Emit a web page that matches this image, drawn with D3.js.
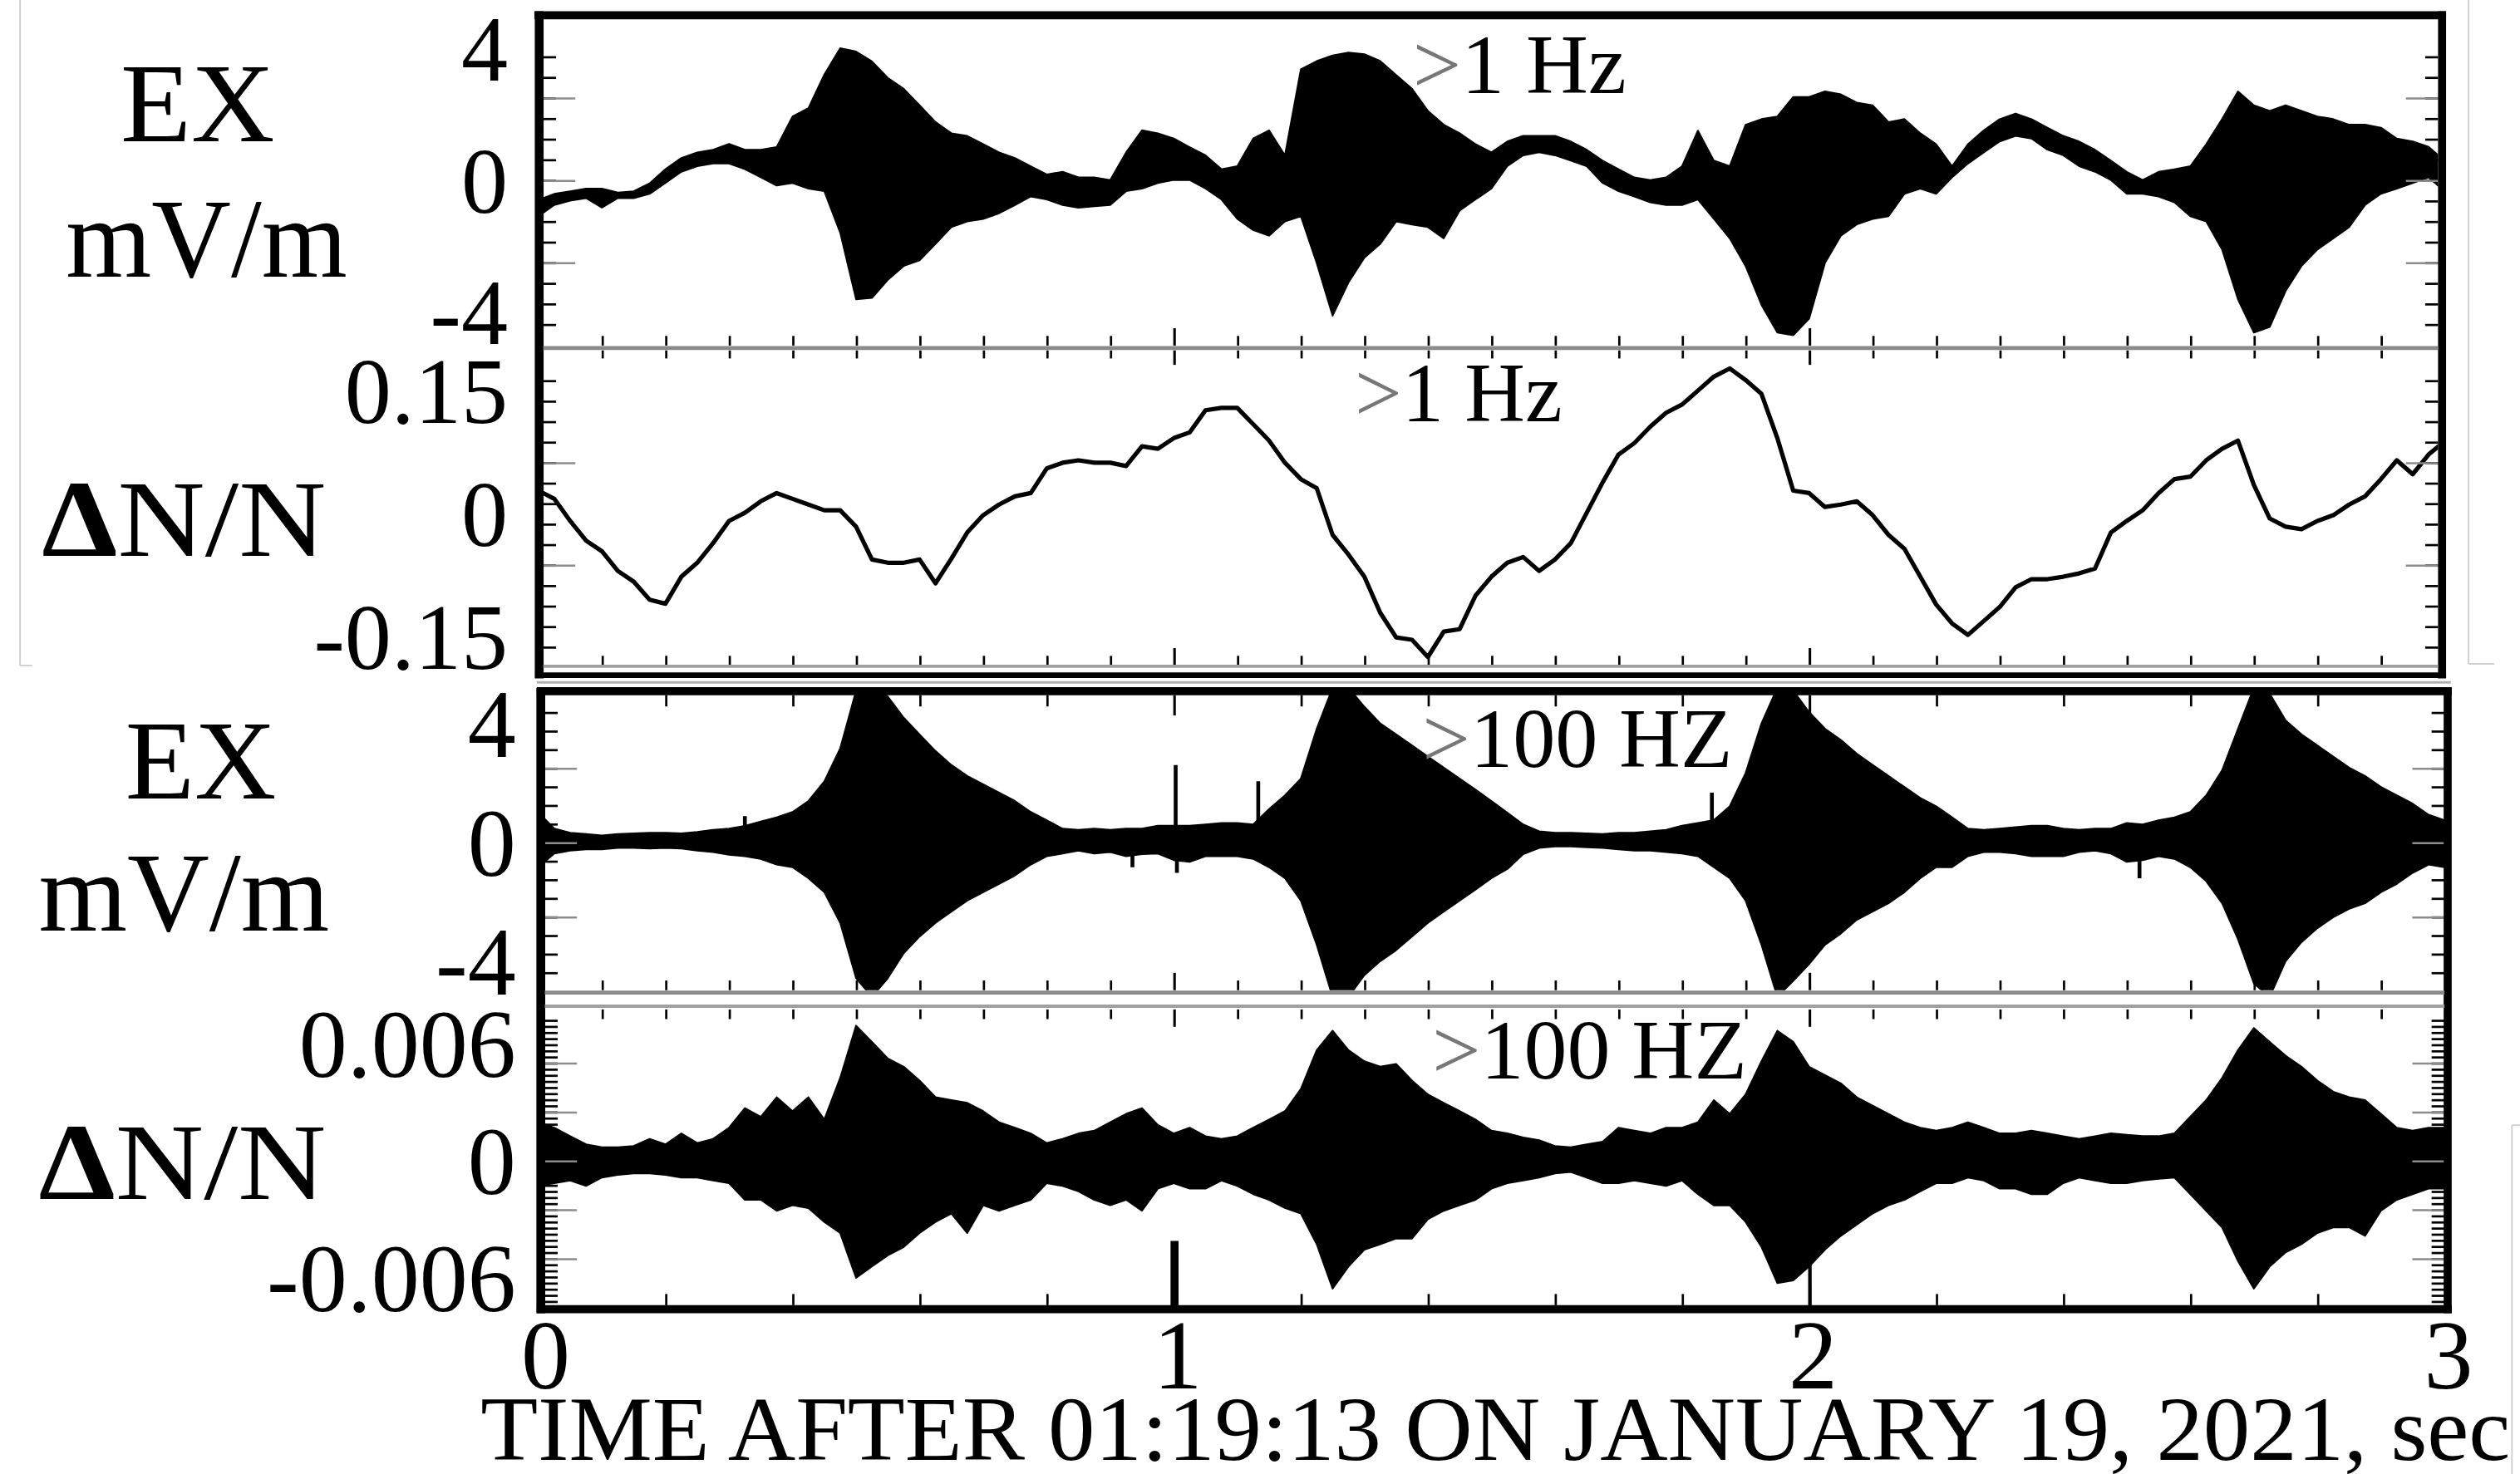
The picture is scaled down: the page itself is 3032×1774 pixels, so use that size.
<!DOCTYPE html>
<html>
<head>
<meta charset="utf-8">
<title>EX and ΔN/N waveforms, 01:19:13 January 19, 2021</title>
<script src="https://cdn.jsdelivr.net/npm/d3@7/dist/d3.min.js"></script>
<style>
  html, body { margin: 0; padding: 0; background: #fff; }
  svg { display: block; }
  text { font-family: "Liberation Serif", "Times New Roman", Times, serif; fill: #000; }
</style>
</head>
<body>
<svg id="chart" width="3032" height="1774" viewBox="0 0 1568 917" preserveAspectRatio="none"></svg>
<script>
// ---------------------------------------------------------------------------
// Sample grid: one value every 25 ms over the 3 s record
// ---------------------------------------------------------------------------
const sampleStep = 0.025;
const sampleTimes = d3.range(121).map(i => i * sampleStep);
const timeTickLabels = [0, 1, 2, 3];
const timeTitle = "TIME AFTER 01:19:13 ON JANUARY 19, 2021, sec";

// EX (>1 Hz), mV/m: upper and lower edges of the oscillating trace
const ex1Hi = [
  -0.60, -0.42, -0.34, -0.26, -0.26, -0.38, -0.34, -0.10,  0.33,  0.67,
   0.84,  0.92,  1.10,  0.92,  0.92,  1.00,  1.93,  2.18,  3.20,  4.00,
   3.90,  3.60,  3.10,  2.77,  2.27,  1.76,  1.42,  1.34,  1.09,  0.84,
   0.67,  0.42,  0.17,  0.25,  0.08,  0.08,  0.00,  0.84,  1.51,  1.42,
   1.26,  1.00,  0.75,  0.33,  0.42,  1.26,  1.51,  0.75,  3.36,  3.61,
   3.78,  3.87,  3.82,  3.61,  3.19,  2.77,  2.10,  1.68,  1.42,  1.09,
   0.84,  1.17,  1.34,  1.34,  1.34,  1.17,  0.92,  0.59,  0.33,  0.08,
   0.00,  0.08,  0.42,  1.50,  0.59,  0.42,  1.68,  1.85,  1.93,  2.52,
   2.52,  2.69,  2.60,  2.35,  2.27,  1.76,  1.85,  1.42,  1.09,  0.42,
   1.09,  1.51,  1.85,  2.02,  1.85,  1.59,  1.34,  1.17,  0.92,  0.59,
   0.25,  0.00,  0.25,  0.33,  0.42,  1.09,  1.85,  2.69,  2.27,  2.10,
   2.27,  2.10,  1.93,  1.85,  1.68,  1.68,  1.59,  1.26,  1.17,  1.01,
   0.59
];
const ex1Lo = [
  -1.10, -0.76, -0.63, -0.55, -0.84, -0.55, -0.55, -0.42, -0.09,  0.25,
   0.42,  0.50,  0.50,  0.33,  0.08, -0.17, -0.09, -0.26, -0.34, -1.60,
  -3.62, -3.58, -3.03, -2.61, -2.44, -1.94, -1.43, -1.26, -1.18, -1.01,
  -0.76, -0.50, -0.59, -0.76, -0.84, -0.80, -0.76, -0.34, -0.26, -0.09,
   0.00,  0.00, -0.26, -0.59, -1.18, -1.52, -1.69, -1.26, -1.10, -2.52,
  -4.12, -3.11, -2.36, -1.94, -1.26, -1.35, -1.43, -1.77, -0.93, -0.59,
  -0.26,  0.42,  0.75,  0.84,  0.75,  0.59,  0.42, -0.09, -0.34, -0.50,
  -0.68, -0.76, -0.76, -0.59, -1.18, -1.77, -2.61, -3.79, -4.63, -4.71,
  -4.21, -2.52, -1.69, -1.35, -1.18, -1.10, -0.42, -0.26, -0.42,  0.08,
   0.50,  0.84,  1.17,  1.34,  1.26,  0.92,  0.75,  0.42,  0.25,  0.00,
  -0.42, -0.42, -0.50, -0.68, -1.10, -1.26, -2.11, -3.62, -4.63, -4.46,
  -3.37, -2.61, -2.11, -1.77, -1.43, -0.76, -0.42, -0.26, -0.09,  0.08,
  -0.34
];

// ΔN/N (>1 Hz)
const dn1Values = [
   0.028,  0.018, -0.009, -0.033, -0.046, -0.070, -0.083, -0.105, -0.110, -0.077,
  -0.060, -0.036, -0.009,  0.001,  0.015,  0.025,  0.018,  0.011,  0.004,  0.004,
  -0.016, -0.056, -0.060, -0.060, -0.056, -0.085, -0.055, -0.023, -0.002,  0.011,
   0.021,  0.025,  0.055,  0.062,  0.065,  0.062,  0.062,  0.058,  0.082,  0.079,
   0.092,  0.099,  0.126,  0.129,  0.129,  0.109,  0.089,  0.062,  0.042,  0.031,
  -0.026, -0.050, -0.077, -0.121, -0.151, -0.154, -0.175, -0.144, -0.141, -0.100,
  -0.077, -0.060, -0.053, -0.070, -0.056, -0.036,  0.001,  0.038,  0.072,  0.086,
   0.106,  0.123,  0.133,  0.150,  0.167,  0.177,  0.163,  0.146,  0.092,  0.028,
   0.025,  0.008,  0.011,  0.015, -0.002, -0.026, -0.043, -0.077, -0.111, -0.134,
  -0.148, -0.131, -0.114, -0.090, -0.080, -0.080, -0.077, -0.073, -0.067, -0.023,
  -0.009,  0.004,  0.025,  0.042,  0.045,  0.065,  0.079,  0.089,  0.035, -0.006,
  -0.016, -0.019, -0.009, -0.002,  0.011,  0.021,  0.042,  0.065,  0.048,  0.072,
   0.088
];

// EX (>100 Hz), mV/m: envelope of the wave packets
const ex3Hi = [
   1.00,  0.46,  0.32,  0.28,  0.23,  0.28,  0.30,  0.32,  0.32,  0.30,
   0.35,  0.42,  0.46,  0.55,  0.70,  0.84,  1.02,  1.39,  2.05,  3.16,
   5.10,  5.20,  4.90,  4.19,  3.63,  3.07,  2.60,  2.23,  1.95,  1.67,
   1.39,  1.02,  0.74,  0.46,  0.42,  0.46,  0.42,  0.46,  0.46,  0.56,
   0.56,  0.56,  0.60,  0.65,  0.65,  0.60,  1.12,  1.58,  2.14,  3.82,
   5.20,  5.20,  4.56,  4.00,  3.63,  3.26,  2.88,  2.51,  2.14,  1.77,
   1.39,  1.00,  0.60,  0.37,  0.32,  0.32,  0.30,  0.28,  0.32,  0.32,
   0.37,  0.42,  0.56,  0.65,  0.75,  1.21,  2.33,  4.00,  5.20,  5.10,
   4.38,  3.82,  3.44,  2.98,  2.60,  2.23,  1.86,  1.49,  1.21,  0.84,
   0.46,  0.42,  0.46,  0.51,  0.56,  0.56,  0.46,  0.42,  0.46,  0.46,
   0.65,  0.60,  0.74,  0.84,  1.02,  1.58,  2.42,  3.82,  5.20,  5.00,
   4.10,  3.63,  3.26,  2.88,  2.51,  2.23,  1.86,  1.58,  1.30,  0.93,
   0.74
];
const ex3Lo = [
  -0.84, -0.38, -0.28, -0.24, -0.24, -0.19, -0.19, -0.21, -0.19, -0.21,
  -0.28, -0.33, -0.42, -0.47, -0.56, -0.75, -0.84, -1.21, -1.68, -2.71,
  -4.57, -5.20, -4.57, -3.73, -3.17, -2.71, -2.33, -1.96, -1.68, -1.40,
  -1.12, -0.75, -0.47, -0.38, -0.28, -0.38, -0.33, -0.47, -0.40, -0.38,
  -0.60, -0.66, -0.47, -0.47, -0.47, -0.56, -0.84, -1.21, -1.96, -3.45,
  -5.20, -5.20, -4.47, -4.00, -3.63, -3.17, -2.71, -2.33, -1.96, -1.59,
  -1.21, -0.90, -0.40, -0.19, -0.14, -0.14, -0.17, -0.19, -0.24, -0.28,
  -0.28, -0.33, -0.38, -0.47, -0.84, -1.21, -1.96, -3.45, -5.20, -4.66,
  -4.10, -3.45, -3.07, -2.61, -2.33, -2.05, -1.68, -1.21, -0.84, -0.84,
  -0.47, -0.33, -0.33, -0.38, -0.47, -0.47, -0.47, -0.33, -0.28, -0.38,
  -0.66, -0.60, -0.47, -0.56, -0.84, -1.31, -2.05, -3.26, -4.75, -5.20,
  -4.00, -3.36, -2.89, -2.52, -2.24, -2.05, -1.68, -1.40, -1.03, -0.75,
  -0.84
];
// isolated short spikes in EX (>100 Hz)
const ex3SpikeTimes  = [0.325, 0.935, 1.003, 1.005, 1.133, 1.847, 2.520];
const ex3SpikeValues = [0.88, -0.84, 2.60, -1.03, 2.05, 1.67, -1.21];

// ΔN/N (>100 Hz) envelope, in units of 1e-3
const dn4HiMilli = [
   1.96, 1.68, 1.25, 0.83, 0.68, 0.68, 0.75, 1.11, 0.83, 1.39,
   0.90, 1.11, 1.68, 2.68, 2.24, 3.24, 2.53, 3.24, 2.10, 4.23,
   6.90, 6.07, 5.22, 4.80, 4.09, 3.24, 3.09, 2.95, 2.53, 1.96,
   1.68, 1.39, 0.90, 1.11, 1.39, 1.53, 1.96, 2.39, 2.68, 1.82,
   1.39, 1.68, 1.25, 1.11, 1.25, 1.68, 2.10, 2.53, 3.66, 5.65,
   6.64, 5.65, 5.08, 4.80, 4.94, 4.09, 3.38, 2.95, 2.53, 2.10,
   1.53, 1.39, 1.18, 1.04, 0.75, 0.68, 0.83, 0.97, 1.68, 1.53,
   1.39, 1.68, 1.68, 1.96, 3.09, 2.39, 3.38, 5.08, 6.64, 6.07,
   4.80, 4.37, 3.95, 3.24, 2.81, 2.39, 1.96, 1.68, 1.53, 1.68,
   1.96, 1.68, 1.39, 1.39, 1.53, 1.39, 1.25, 1.11, 1.25, 1.39,
   1.32, 1.25, 1.25, 1.39, 2.24, 3.09, 4.23, 5.65, 6.78, 6.07,
   5.36, 4.80, 4.09, 3.52, 3.24, 3.09, 2.39, 1.68, 1.53, 1.68,
   1.68
];
const dn4LoMilli = [
  -1.30, -1.16, -1.02, -1.30, -0.87, -0.73, -0.66, -0.66, -0.73, -0.87,
  -0.87, -1.02, -1.16, -2.01, -2.01, -2.57, -2.29, -2.43, -3.14, -3.71,
  -6.00, -5.42, -4.85, -4.42, -3.71, -3.14, -2.71, -3.71, -2.29, -2.57,
  -2.29, -2.01, -1.16, -1.30, -1.58, -2.01, -2.29, -2.01, -2.57, -1.44,
  -1.16, -1.44, -1.44, -1.02, -1.30, -1.72, -2.01, -2.43, -2.71, -4.28,
  -6.55, -5.42, -4.56, -4.28, -3.99, -3.99, -3.00, -2.57, -2.29, -2.01,
  -1.44, -1.16, -1.02, -0.87, -0.66, -0.59, -0.87, -1.16, -1.16, -1.02,
  -1.16, -1.30, -1.02, -1.72, -2.29, -2.29, -3.14, -4.42, -6.27, -6.13,
  -5.42, -4.56, -3.85, -3.28, -2.71, -2.29, -2.01, -1.58, -1.16, -1.16,
  -0.87, -1.02, -1.44, -1.44, -1.72, -1.72, -1.16, -0.87, -1.02, -1.16,
  -1.16, -1.02, -0.94, -0.87, -1.72, -2.57, -3.42, -5.14, -6.55, -5.42,
  -4.70, -4.28, -3.71, -3.42, -3.42, -3.85, -2.57, -2.01, -1.72, -1.44,
  -1.44
];

// axis labels of the four panels
const ex1Labels = [4, 0, -4];
const dn1Labels = [0.15, 0, -0.15];
const ex3Labels = [4, 0, -4];
const dn4LabelsMilli = [6, 0, -6];

// ---------------------------------------------------------------------------
const svg = d3.select("#chart");

const xScale = d3.scaleLinear().domain([0, 3]).range([335, 1521]);
const yEx1 = d3.scaleLinear().domain([-4, 4]).range([194, 30]);
const yDn1 = d3.scaleLinear().domain([-0.15, 0.15]).range([396, 243]);
const yEx3 = d3.scaleLinear().domain([-4, 4]).range([598, 450]);
const yDn4 = d3.scaleLinear().domain([-6, 6]).range([795, 649]);

const panels = [
  { id: "p1", top: 12,  bottom: 215, left: 338, right: 1517 },
  { id: "p2", top: 218, bottom: 414, left: 338, right: 1517 },
  { id: "p3", top: 432, bottom: 616, left: 339, right: 1521 },
  { id: "p4", top: 628, bottom: 812, left: 339, right: 1521 }
];

const defs = svg.append("defs");
panels.forEach(p => {
  defs.append("clipPath").attr("id", "clip-" + p.id)
    .append("rect")
    .attr("x", p.left).attr("y", p.top)
    .attr("width", p.right - p.left).attr("height", p.bottom - p.top);
});

// ---------------------------------------------------------------------------
// Traces
// ---------------------------------------------------------------------------
function drawEnvelope(panelId, hi, lo, y) {
  const area = d3.area()
    .x((d, i) => xScale(sampleTimes[i]))
    .y0((d, i) => y(lo[i]))
    .y1((d, i) => y(hi[i]));
  svg.append("g").attr("clip-path", `url(#clip-${panelId})`)
    .append("path")
    .datum(hi)
    .attr("d", area)
    .attr("fill", "#000")
    .attr("stroke", "#000")
    .attr("stroke-width", 1)
    .attr("stroke-linejoin", "round");
}

drawEnvelope("p1", ex1Hi, ex1Lo, yEx1);

svg.append("g").attr("clip-path", "url(#clip-p2)")
  .append("path")
  .datum(dn1Values)
  .attr("d", d3.line().x((d, i) => xScale(sampleTimes[i])).y(d => yDn1(d)))
  .attr("fill", "none")
  .attr("stroke", "#000")
  .attr("stroke-width", 2.7)
  .attr("stroke-linejoin", "round");

drawEnvelope("p3", ex3Hi, ex3Lo, yEx3);
svg.append("g").attr("clip-path", "url(#clip-p3)")
  .selectAll("line")
  .data(ex3SpikeTimes)
  .join("line")
  .attr("x1", d => xScale(d)).attr("x2", d => xScale(d))
  .attr("y1", yEx3(0))
  .attr("y2", (d, i) => yEx3(ex3SpikeValues[i]))
  .attr("stroke", "#000")
  .attr("stroke-width", 2.4);

drawEnvelope("p4", dn4HiMilli, dn4LoMilli, yDn4);

// ---------------------------------------------------------------------------
// Ticks (pointing into each panel)
// ---------------------------------------------------------------------------
function yTicks(y, xl, xr, minor, major) {
  const g = svg.append("g");
  const add = (axisFn, x, vals, size, color, width) => {
    g.append("g").attr("transform", `translate(${x},0)`)
      .call(axisFn(y).tickValues(vals).tickSize(size).tickFormat(""))
      .call(s => s.select(".domain").remove())
      .selectAll("line").attr("stroke", color).attr("stroke-width", width);
  };
  add(d3.axisRight, xl, minor, 8, "#000", 1.4);
  add(d3.axisRight, xl, major, 20, "#8c8c8c", 1.3);
  add(d3.axisLeft, xr, minor, 8, "#000", 1.4);
  add(d3.axisLeft, xr, major, 20, "#8c8c8c", 1.3);
}

yTicks(yEx1, 338, 1517, d3.range(-7, 7).map(k => k * 0.625), [-2.5, 0, 2.5]);
yTicks(yDn1, 338, 1517, d3.range(-7, 7).map(k => 0.0125 + k * 0.025), [-0.0625, 0.0625]);
yTicks(yEx3, 339, 1521, d3.range(-7, 8).map(k => k * 0.625), [-2.5, 0, 2.5]);
yTicks(yDn4, 339, 1521, d3.range(-23, 24).map(k => k * 0.3125), [-5, -2.5, 0, 2.5, 5]);

function xTicks(yPos, pointDown, step, size) {
  const vals = d3.range(1, Math.round(3 / step)).map(k => +(k * step).toFixed(2))
    .filter(v => Math.abs(v - Math.round(v)) > 1e-6);
  const axisFn = pointDown ? d3.axisBottom : d3.axisTop;
  const g = svg.append("g").attr("transform", `translate(0,${yPos})`);
  g.append("g")
    .call(axisFn(xScale).tickValues(vals).tickSize(size).tickFormat(""))
    .call(s => s.select(".domain").remove())
    .selectAll("line").attr("stroke", "#000").attr("stroke-width", 1.4);
  g.append("g")
    .call(axisFn(xScale).tickValues([1, 2]).tickSize(size * 1.8).tickFormat(""))
    .call(s => s.select(".domain").remove())
    .selectAll("line").attr("stroke", "#000").attr("stroke-width", 1.6);
}

xTicks(215, false, 0.1, 6);
xTicks(218, true, 0.1, 5);
xTicks(414, false, 0.1, 6);
xTicks(432.5, true, 0.2, 7);
xTicks(616, false, 0.1, 6);
xTicks(628, true, 0.1, 6);
xTicks(812, false, 0.2, 7);

// whole-second markers rising from the bottom axis
svg.append("g").attr("transform", "translate(0,814)")
  .call(d3.axisTop(xScale).tickValues([1, 2]).tickSize(42).tickFormat(""))
  .call(s => s.select(".domain").remove())
  .selectAll("line")
  .attr("stroke", "#000")
  .attr("stroke-width", d => d === 1 ? 5 : 2.2);

// ---------------------------------------------------------------------------
// Frames and separators
// ---------------------------------------------------------------------------
const frame = svg.append("g").attr("fill", "none");
function seg(x1, y1, x2, y2, color, width) {
  frame.append("line")
    .attr("x1", x1).attr("y1", y1).attr("x2", x2).attr("y2", y2)
    .attr("stroke", color).attr("stroke-width", width);
}
// upper pair of panels
seg(332.5, 9.5, 1522, 9.5, "#000", 5);
seg(335.5, 7, 335.5, 422, "#000", 5.5);
seg(1519.5, 7, 1519.5, 422, "#000", 5);
seg(338, 216.5, 1517, 216.5, "#8a8a8a", 2.5);
seg(338, 414.5, 1517, 414.5, "#a0a0a0", 2);
seg(333, 420, 1522, 420, "#000", 3.5);
// lower pair of panels
seg(334, 424.5, 1525, 424.5, "#b0b0b0", 1.5);
seg(334, 430, 1525.5, 430, "#000", 5);
seg(336.5, 428, 336.5, 817, "#000", 5.5);
seg(1523, 428, 1523, 817, "#000", 5);
seg(339, 617.5, 1521, 617.5, "#8a8a8a", 2.5);
seg(339, 626, 1521, 626, "#a0a0a0", 2);
seg(334, 814.5, 1525.5, 814.5, "#000", 5);
// thin outline lines around the plates
seg(12.5, 0, 12.5, 414, "#cfcfcf", 1);
seg(12.5, 414, 20, 414, "#cfcfcf", 1);
seg(1536, 0, 1536, 413, "#cfcfcf", 1);
seg(1536, 413, 1552, 413, "#cfcfcf", 1);
seg(1563, 700, 1563, 917, "#cfcfcf", 1);
seg(1563, 700, 1568, 700, "#cfcfcf", 1);

// ---------------------------------------------------------------------------
// Tick labels
// ---------------------------------------------------------------------------
function yLabels(y, xRight, vals, fmt, size) {
  svg.append("g").attr("transform", `translate(${xRight},0)`)
    .call(d3.axisLeft(y).tickValues(vals).tickSize(0).tickPadding(0).tickFormat(fmt))
    .call(s => s.select(".domain").remove())
    .selectAll("text")
    .attr("font-size", size)
    .attr("font-family", "'Liberation Serif','Times New Roman',serif")
    .attr("fill", "#000")
    .attr("dy", "0.34em");
}
yLabels(yEx1, 316, ex1Labels, d => String(d), 58);
yLabels(yDn1, 316, dn1Labels, d => d === 0 ? "0" : String(d), 58);
yLabels(yEx3, 321, ex3Labels, d => String(d), 60);
yLabels(yDn4, 321, dn4LabelsMilli, d => d === 0 ? "0" : (d / 1000).toFixed(3), 60);

svg.append("g").attr("transform", "translate(0,864)")
  .call(d3.axisBottom(xScale).tickValues(timeTickLabels).tickSize(0).tickFormat(d => String(d)))
  .call(s => s.select(".domain").remove())
  .selectAll("text")
  .attr("y", 0).attr("dy", 0)
  .attr("dx", d => d === 0 ? 4 : 2)
  .attr("font-size", 61)
  .attr("font-family", "'Liberation Serif','Times New Roman',serif")
  .attr("fill", "#000");

svg.append("text")
  .attr("x", 299).attr("y", 908)
  .attr("font-size", 57)
  .attr("textLength", 1263)
  .attr("lengthAdjust", "spacingAndGlyphs")
  .text(timeTitle);

// ---------------------------------------------------------------------------
// Quantity names
// ---------------------------------------------------------------------------
function label(x, y, size, width, parts) {
  const t = svg.append("text")
    .attr("x", x).attr("y", y)
    .attr("font-size", size)
    .attr("textLength", width)
    .attr("lengthAdjust", "spacingAndGlyphs");
  parts.forEach(p => {
    const s = t.append("tspan").text(p.text);
    if (p.bold) s.attr("font-weight", "bold");
    if (p.fill) s.attr("fill", p.fill);
  });
}
label(75, 88, 70, 96, [{ text: "EX" }]);
label(41, 172, 70, 175, [{ text: "mV/m" }]);
label(26, 346, 68, 177, [{ text: "Δ", bold: true }, { text: "N/N" }]);
label(78, 497, 70, 94, [{ text: "EX" }]);
label(24, 579, 70, 181, [{ text: "mV/m" }]);
label(24, 746, 68, 179, [{ text: "Δ", bold: true }, { text: "N/N" }]);

// filter annotations inside the panels
label(879, 58, 52, 133, [{ text: ">", fill: "#777" }, { text: "1 Hz" }]);
label(843, 262, 52, 129, [{ text: ">", fill: "#777" }, { text: "1 Hz" }]);
label(885, 477, 52, 193, [{ text: ">", fill: "#777" }, { text: "100 HZ" }]);
label(891, 671, 52, 196, [{ text: ">", fill: "#777" }, { text: "100 HZ" }]);
</script>
</body>
</html>
